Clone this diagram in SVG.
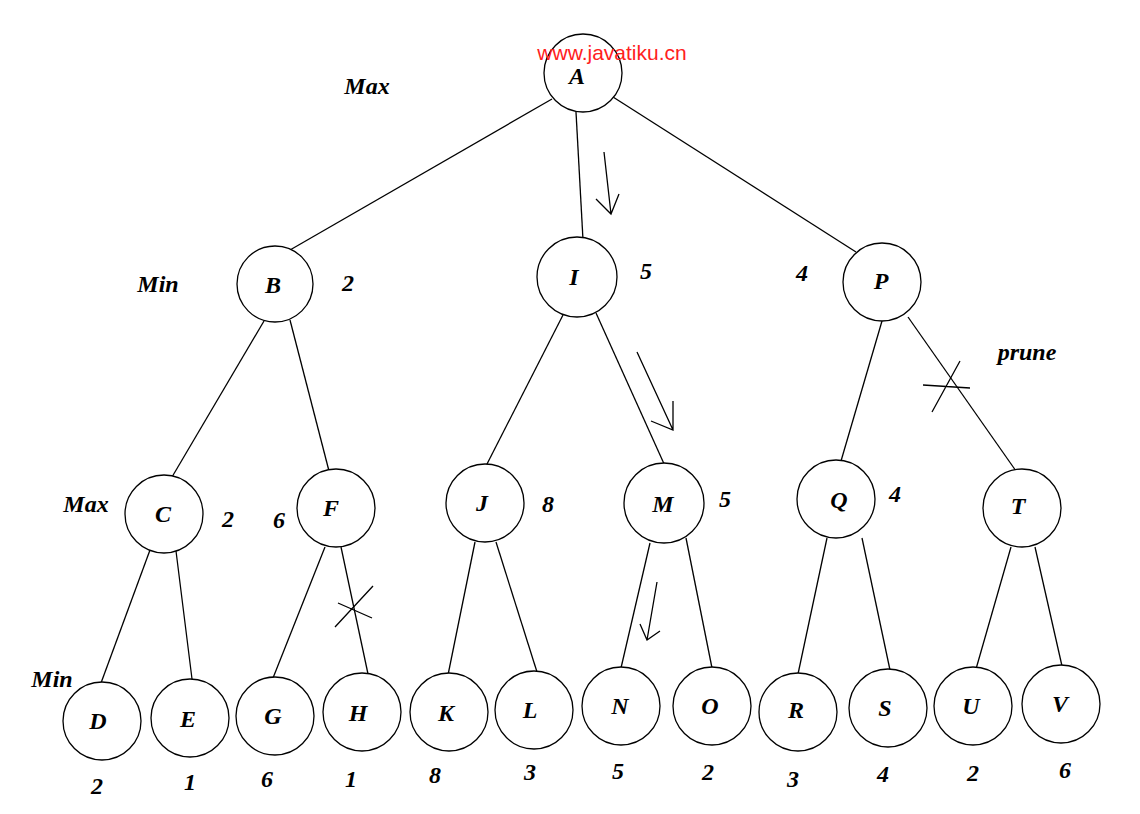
<svg xmlns="http://www.w3.org/2000/svg" width="1140" height="814" viewBox="0 0 1140 814">
<style>
.n circle{fill:#fff;stroke:#000;stroke-width:1.3}
.n text,.t{font-family:"Liberation Serif",serif;font-weight:bold;font-style:italic;font-size:24px;fill:#000;text-anchor:middle}
.e line{stroke:#000;stroke-width:1.3}
.m{stroke:#000;stroke-width:1.3;fill:none}
.w{font-family:"Liberation Sans",Arial,sans-serif;font-size:21px;fill:#ff2020;text-anchor:middle}
</style>
<rect width="1140" height="814" fill="#fff"/>
<g id="connectors" class="e">
<line x1="552" y1="99" x2="290" y2="250"/>
<line x1="576" y1="112" x2="583" y2="240"/>
<line x1="613" y1="97" x2="856" y2="252"/>
<line x1="264" y1="321" x2="172" y2="477"/>
<line x1="290" y1="320" x2="329" y2="471"/>
<line x1="563" y1="315" x2="486" y2="466"/>
<line x1="596" y1="313" x2="665" y2="466"/>
<line x1="882" y1="321" x2="841" y2="461"/>
<line x1="908" y1="317" x2="1016" y2="471"/>
<line x1="150" y1="550" x2="101" y2="683"/>
<line x1="176" y1="551" x2="192" y2="679"/>
<line x1="325" y1="547" x2="273" y2="678"/>
<line x1="341" y1="547" x2="368" y2="674"/>
<line x1="475" y1="542" x2="448" y2="675"/>
<line x1="496" y1="542" x2="537" y2="672"/>
<line x1="650" y1="543" x2="621" y2="668"/>
<line x1="686" y1="538" x2="712" y2="668"/>
<line x1="827" y1="538" x2="798" y2="674"/>
<line x1="862" y1="538" x2="890" y2="670"/>
<line x1="1011" y1="547" x2="976" y2="669"/>
<line x1="1035" y1="547" x2="1062" y2="666"/>
</g>
<g id="marks">
<path class="m" d="M604,152 L611,214 M596,199 L611,214 L619,194"/>
<path class="m" d="M637,352 L673,430 M651,421 L673,430 L673,401"/>
<path class="m" d="M657,582 L647,640 M640,624 L647,640 L660,631"/>
<path class="m" d="M338,603 L372,618 M335,627 L373,586"/>
<path class="m" d="M923,385 L970,388 M932,412 L960,361"/>
</g>
<g id="nA" class="n"><circle cx="583" cy="73" r="39"/><text x="577" y="84">A</text></g>
<g id="nB" class="n"><circle cx="275" cy="284" r="38"/><text x="273" y="293">B</text></g>
<g id="nI" class="n"><circle cx="577" cy="277" r="40"/><text x="574" y="285">I</text></g>
<g id="nP" class="n"><circle cx="882" cy="282" r="39"/><text x="881" y="289">P</text></g>
<g id="nC" class="n"><circle cx="164" cy="514" r="39"/><text x="163" y="522">C</text></g>
<g id="nF" class="n"><circle cx="336" cy="508" r="39"/><text x="331" y="516">F</text></g>
<g id="nJ" class="n"><circle cx="485" cy="503" r="39"/><text x="482" y="511">J</text></g>
<g id="nM" class="n"><circle cx="664" cy="503" r="40"/><text x="663" y="512">M</text></g>
<g id="nQ" class="n"><circle cx="836" cy="499" r="39"/><text x="839" y="508">Q</text></g>
<g id="nT" class="n"><circle cx="1022" cy="508" r="39"/><text x="1018" y="514">T</text></g>
<g id="nD" class="n"><circle cx="102" cy="721" r="39"/><text x="98" y="729">D</text></g>
<g id="nE" class="n"><circle cx="190" cy="718" r="39"/><text x="188" y="727">E</text></g>
<g id="nG" class="n"><circle cx="275" cy="716" r="39"/><text x="273" y="724">G</text></g>
<g id="nH" class="n"><circle cx="362" cy="712" r="39"/><text x="358" y="721">H</text></g>
<g id="nK" class="n"><circle cx="449" cy="712" r="39"/><text x="446" y="721">K</text></g>
<g id="nL" class="n"><circle cx="534" cy="710" r="39"/><text x="530" y="718">L</text></g>
<g id="nN" class="n"><circle cx="621" cy="706" r="39"/><text x="620" y="714">N</text></g>
<g id="nO" class="n"><circle cx="712" cy="706" r="39"/><text x="710" y="714">O</text></g>
<g id="nR" class="n"><circle cx="798" cy="712" r="39"/><text x="796" y="718">R</text></g>
<g id="nS" class="n"><circle cx="888" cy="708" r="39"/><text x="885" y="716">S</text></g>
<g id="nU" class="n"><circle cx="973" cy="706" r="39"/><text x="971" y="714">U</text></g>
<g id="nV" class="n"><circle cx="1061" cy="704" r="39"/><text x="1060" y="712">V</text></g>
<g id="labels">
<text class="t" x="367" y="94">Max</text>
<text class="t" x="158" y="292">Min</text>
<text class="t" x="86" y="512">Max</text>
<text class="t" x="52" y="687">Min</text>
<text class="t" x="1027" y="360">prune</text>
<text class="t" x="348" y="291">2</text>
<text class="t" x="646" y="279">5</text>
<text class="t" x="802" y="281">4</text>
<text class="t" x="228" y="527">2</text>
<text class="t" x="279" y="528">6</text>
<text class="t" x="548" y="512">8</text>
<text class="t" x="725" y="507">5</text>
<text class="t" x="895" y="502">4</text>
<text class="t" x="97" y="794">2</text>
<text class="t" x="190" y="790">1</text>
<text class="t" x="267" y="787">6</text>
<text class="t" x="351" y="787">1</text>
<text class="t" x="435" y="783">8</text>
<text class="t" x="530" y="780">3</text>
<text class="t" x="618" y="779">5</text>
<text class="t" x="708" y="780">2</text>
<text class="t" x="793" y="787">3</text>
<text class="t" x="883" y="782">4</text>
<text class="t" x="973" y="781">2</text>
<text class="t" x="1065" y="778">6</text>
</g>
<text class="w" x="612" y="60">www.javatiku.cn</text>
</svg>
